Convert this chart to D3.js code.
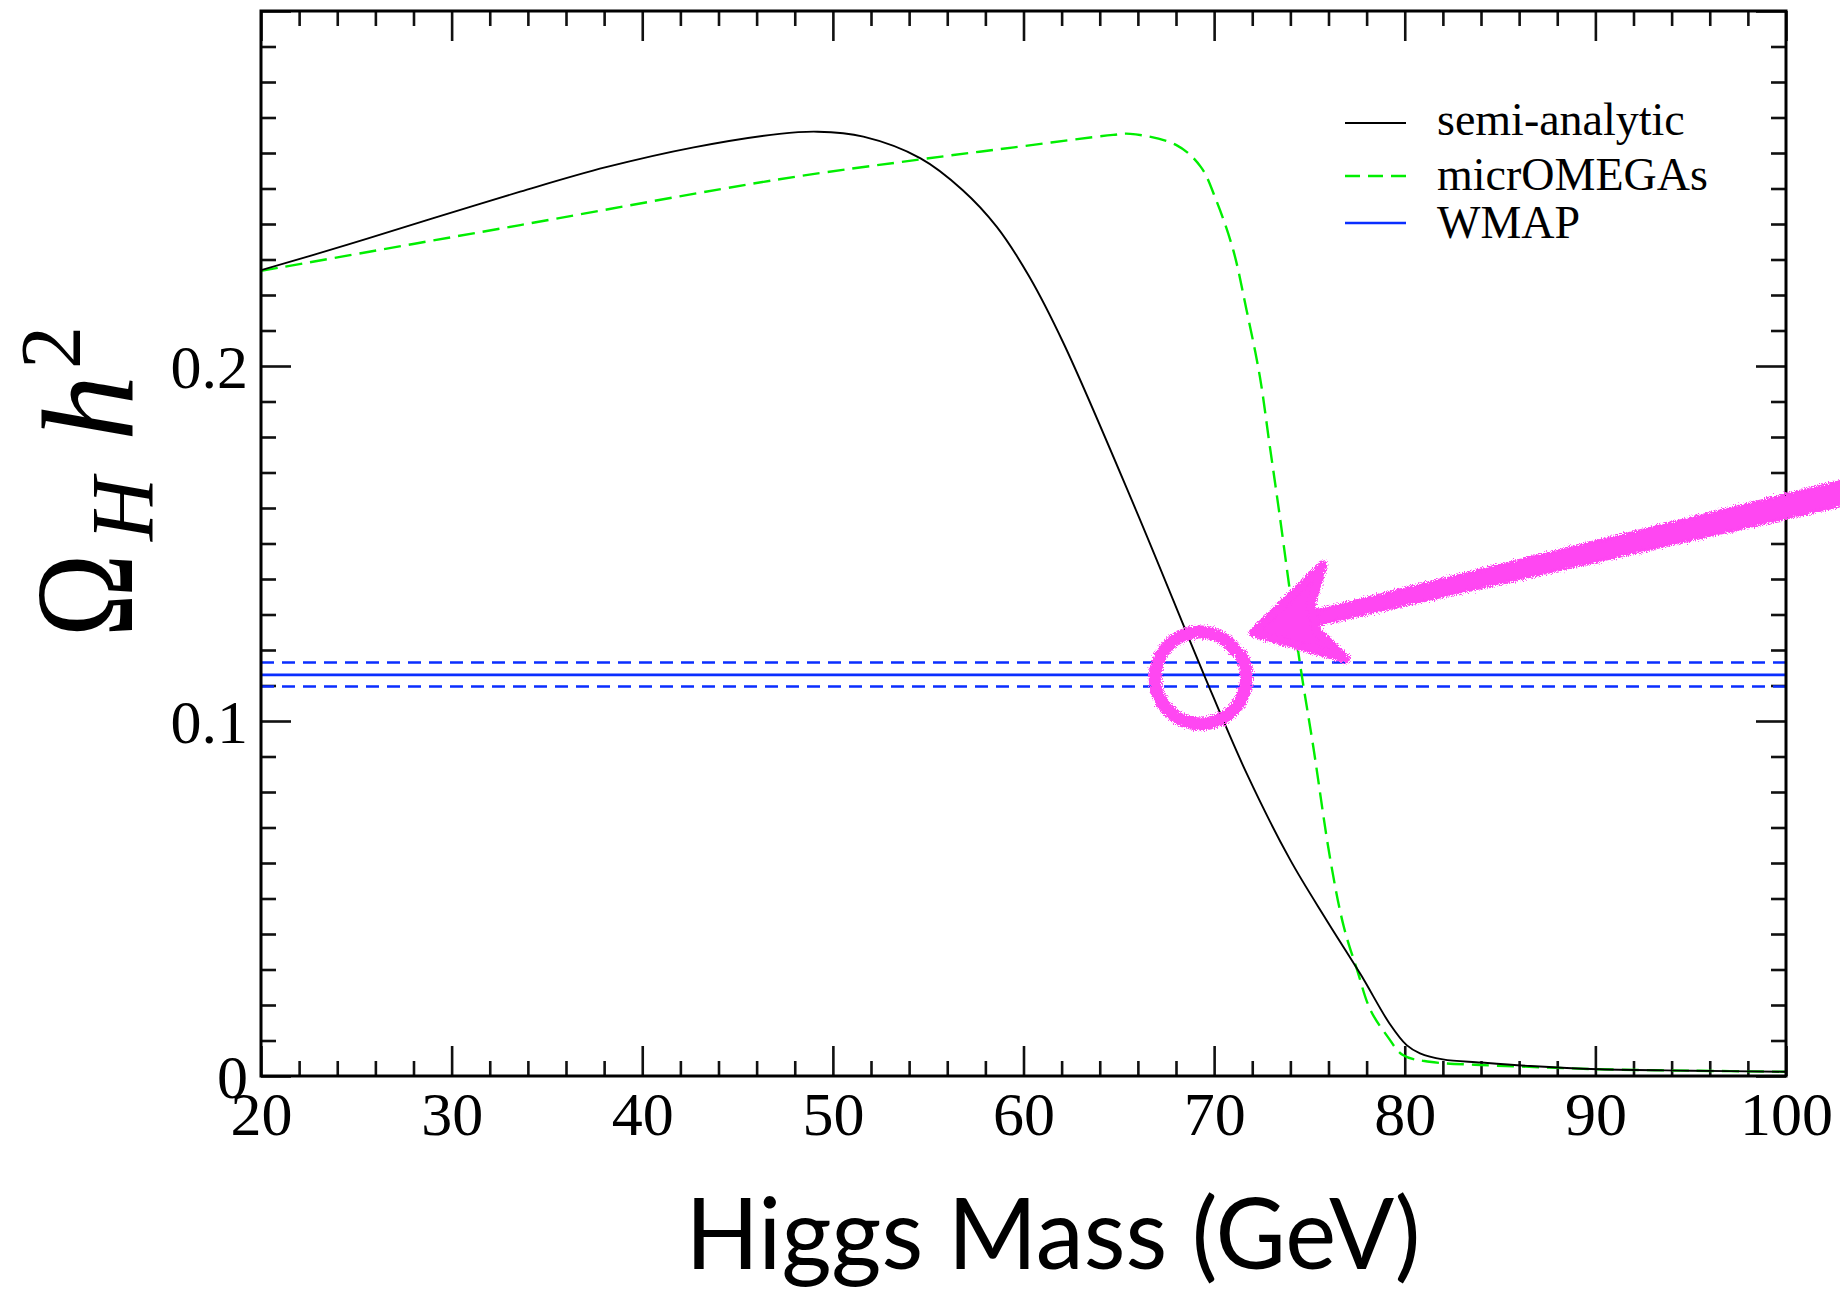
<!DOCTYPE html>
<html><head><meta charset="utf-8">
<script src="https://cdn.jsdelivr.net/npm/d3@7"></script>
<style>html,body{margin:0;padding:0;background:#fff;} svg{display:block}</style>
</head><body>
<svg id="chart" width="1840" height="1293"></svg>
<script>
// ---------- data ----------
const semiMass  = [20, 24.5, 29, 33.6, 38.1, 42.7, 47.2, 49.2, 51.6, 54.6, 56.8, 58.6, 60.3, 62.1, 65.9, 69.47, 71.7, 74.0, 75.9, 77.7, 79.2, 80.1, 80.8, 82.0, 84.0, 86.6, 90.2, 95, 100];
const semiOmega = [0.2270, 0.2341, 0.2416, 0.2491, 0.2560, 0.2616, 0.2654, 0.2660, 0.2646, 0.2585, 0.2496, 0.2392, 0.2252, 0.2064, 0.1594, 0.1130, 0.0853, 0.0608, 0.0439, 0.0285, 0.0148, 0.0087, 0.0064, 0.0047, 0.0038, 0.0028, 0.0019, 0.0015, 0.0012];
const microMass  = [20, 33.6, 47.2, 54.6, 59.5, 64.7, 65.6, 68.0, 69.3, 70.1, 71.0, 71.7, 72.4, 72.9, 73.4, 74.5, 75.2, 76.1, 76.8, 77.5, 78.2, 79.1, 79.9, 81.3, 84.0, 87.5, 90.2, 95, 100];
const microOmega = [0.2268, 0.2397, 0.2526, 0.2582, 0.2616, 0.2651, 0.2654, 0.2623, 0.2561, 0.2468, 0.2327, 0.2158, 0.1970, 0.1782, 0.1594, 0.1163, 0.0928, 0.0608, 0.0421, 0.0299, 0.0186, 0.0111, 0.0059, 0.0040, 0.0031, 0.0024, 0.0019, 0.0015, 0.0012];
const wmapLevels = [0.1165, 0.1130, 0.1097];      // upper, central, lower
const wmapDashed = [true, false, true];
const xMajorTicks = [20, 30, 40, 50, 60, 70, 80, 90, 100];
const xTickLabels = ["20", "30", "40", "50", "60", "70", "80", "90", "100"];
const yMajorTicks = [0, 0.1, 0.2, 0.3];
const yTickLabels = ["0", "0.1", "0.2", ""];
const legendNames = ["semi-analytic", "micrOMEGAs", "WMAP"];
const xTitle = "Higgs Mass (GeV)";
// annotation (hand-drawn circle and arrow), in data units
const circleCenter = [69.27, 0.1123];
const arrowTip = [72.04, 0.1248];
const arrowTail = [103.2, 0.1645];

// ---------- layout ----------
const L = 261, R = 1786, T = 11, B = 1076;
const svg = d3.select("#chart");
const x = d3.scaleLinear().domain([20, 100]).range([L, R]);
const y = d3.scaleLinear().domain([0, 0.3]).range([B, T]);
const serif = "'Liberation Serif','Times New Roman',serif";

const defs = svg.append("defs");
defs.append("clipPath").attr("id", "plotclip").append("rect")
  .attr("x", L).attr("y", T).attr("width", R - L).attr("height", B - T);
const f = defs.append("filter").attr("id", "spray")
  .attr("x", "-20%").attr("y", "-20%").attr("width", "140%").attr("height", "140%");
f.append("feTurbulence").attr("type", "fractalNoise").attr("baseFrequency", 0.9)
  .attr("numOctaves", 2).attr("seed", 4).attr("result", "n");
f.append("feDisplacementMap").attr("in", "SourceGraphic").attr("in2", "n")
  .attr("scale", 8).attr("xChannelSelector", "R").attr("yChannelSelector", "G");

// ---------- ticks ----------
const xMinor = d3.range(20, 100.001, 2).filter(v => v % 10 !== 0);
const yMinor = d3.range(0, 31).map(i => i / 100).filter((v, i) => i % 10 !== 0);
const majorLen = 30, minorLen = 15;

function styleAxis(g) {
  g.select(".domain").remove();
  g.selectAll(".tick line").attr("stroke", "#111").attr("stroke-width", 2.6);
}
// bottom
svg.append("g").attr("transform", `translate(0,${B})`)
  .call(d3.axisBottom(x).tickValues(xMajorTicks).tickSize(-majorLen).tickSizeOuter(0)
    .tickFormat((d, i) => xTickLabels[i]))
  .call(styleAxis)
  .call(g => g.selectAll("text").attr("y", 59).attr("dy", 0)
    .attr("font-family", serif).attr("font-size", 62).attr("fill", "#000"));
svg.append("g").attr("transform", `translate(0,${B})`)
  .call(d3.axisBottom(x).tickValues(xMinor).tickSize(-minorLen).tickSizeOuter(0).tickFormat(""))
  .call(styleAxis);
// top
svg.append("g").attr("transform", `translate(0,${T})`)
  .call(d3.axisTop(x).tickValues(xMajorTicks).tickSize(-majorLen).tickSizeOuter(0).tickFormat(""))
  .call(styleAxis);
svg.append("g").attr("transform", `translate(0,${T})`)
  .call(d3.axisTop(x).tickValues(xMinor).tickSize(-minorLen).tickSizeOuter(0).tickFormat(""))
  .call(styleAxis);
// left
svg.append("g").attr("transform", `translate(${L},0)`)
  .call(d3.axisLeft(y).tickValues(yMajorTicks).tickSize(-majorLen).tickSizeOuter(0)
    .tickFormat((d, i) => yTickLabels[i]))
  .call(styleAxis)
  .call(g => g.selectAll("text").attr("x", -13).attr("y", 21).attr("dy", 0)
    .attr("font-family", serif).attr("font-size", 62).attr("fill", "#000"));
svg.append("g").attr("transform", `translate(${L},0)`)
  .call(d3.axisLeft(y).tickValues(yMinor).tickSize(-minorLen).tickSizeOuter(0).tickFormat(""))
  .call(styleAxis);
// right
svg.append("g").attr("transform", `translate(${R},0)`)
  .call(d3.axisRight(y).tickValues(yMajorTicks).tickSize(-majorLen).tickSizeOuter(0).tickFormat(""))
  .call(styleAxis);
svg.append("g").attr("transform", `translate(${R},0)`)
  .call(d3.axisRight(y).tickValues(yMinor).tickSize(-minorLen).tickSizeOuter(0).tickFormat(""))
  .call(styleAxis);

// ---------- curves ----------
const plot = svg.append("g").attr("clip-path", "url(#plotclip)");
const line = d3.line().x(d => x(d[0])).y(d => y(d[1])).curve(d3.curveCatmullRom.alpha(0.5));
const blue = "#0a2eff";
wmapLevels.forEach((lv, i) => {
  plot.append("line").attr("x1", x(20)).attr("x2", x(100)).attr("y1", y(lv)).attr("y2", y(lv))
    .attr("stroke", blue).attr("stroke-width", 2.6)
    .attr("stroke-dasharray", wmapDashed[i] ? "13,8" : null);
});
plot.append("path").datum(microMass.map((m, i) => [m, microOmega[i]]))
  .attr("d", line).attr("fill", "none").attr("stroke", "#00ee00")
  .attr("stroke-width", 2.4).attr("stroke-dasharray", "17,8");
plot.append("path").datum(semiMass.map((m, i) => [m, semiOmega[i]]))
  .attr("d", line).attr("fill", "none").attr("stroke", "#000").attr("stroke-width", 1.9);

// frame
svg.append("rect").attr("x", L).attr("y", T).attr("width", R - L).attr("height", B - T)
  .attr("fill", "none").attr("stroke", "#000").attr("stroke-width", 3);

// ---------- legend ----------
const legStyles = [
  {stroke: "#000", dash: null, w: 2},
  {stroke: "#00ee00", dash: "15,8", w: 2.4},
  {stroke: blue, dash: null, w: 2.4}
];
const legRowsY = [123, 176, 223];
const legBase = [135, 190, 238];
legendNames.forEach((name, i) => {
  svg.append("line").attr("x1", 1345).attr("x2", 1406).attr("y1", legRowsY[i]).attr("y2", legRowsY[i])
    .attr("stroke", legStyles[i].stroke).attr("stroke-width", legStyles[i].w)
    .attr("stroke-dasharray", legStyles[i].dash);
  svg.append("text").attr("x", 1437).attr("y", legBase[i]).text(name)
    .attr("font-family", serif).attr("font-size", 46).attr("fill", "#000");
});

// ---------- axis titles ----------
svg.append("text").attr("x", 1053).attr("y", 1269).text(xTitle)
  .attr("text-anchor", "middle").attr("font-family", "Lato, 'Open Sans', sans-serif")
  .attr("font-size", 98).attr("textLength", 735).attr("lengthAdjust", "spacingAndGlyphs")
  .attr("fill", "#000");

const yt = svg.append("g").attr("transform", "rotate(-90)").attr("font-family", serif).attr("fill", "#000");
yt.append("text").attr("transform", "translate(-637,132) scale(0.8,1)").attr("font-size", 140).text("Ω");
yt.append("text").attr("x", -541).attr("y", 152).attr("font-size", 88).attr("font-style", "italic").text("H");
yt.append("text").attr("x", -441).attr("y", 133).attr("font-size", 132).attr("font-style", "italic").text("h");
yt.append("text").attr("x", -369).attr("y", 80).attr("font-size", 86).text("2");

// ---------- annotation ----------
const pink = "#ff46f2";
const ann = svg.append("g").attr("filter", "url(#spray)").attr("fill", "none")
  .attr("stroke", pink).attr("stroke-linecap", "round").attr("stroke-linejoin", "round");
const cx = x(circleCenter[0]), cy = y(circleCenter[1]);
const ring = d3.range(0, 351, 5).map(k => {
  const a = (-38 - k) * Math.PI / 180;
  const r = 44 + 2.5 * (k / 350);
  return [cx + r * Math.cos(a), cy + r * Math.sin(a) * 1.02];
});
ann.append("path").attr("d", d3.line().curve(d3.curveCatmullRom)(ring)).attr("stroke-width", 13);
const tx = x(arrowTip[0]), ty = y(arrowTip[1]);
const ex = x(arrowTail[0]), ey = y(arrowTail[1]);
// tapering shaft
const dx = ex - tx, dy = ey - ty, len = Math.hypot(dx, dy);
const nx = -dy / len, ny = dx / len;
const s0 = [tx + 50, ty - 12], w0 = 7, w1 = 12;
ann.append("path")
  .attr("d", d3.line()([[s0[0] + nx * w0, s0[1] + ny * w0], [ex + nx * w1, ey + ny * w1],
                        [ex - nx * w1, ey - ny * w1], [s0[0] - nx * w0, s0[1] - ny * w0]]) + "Z")
  .attr("fill", pink).attr("stroke-width", 3);
ann.append("path")
  .attr("d", d3.line()([[tx, ty], [tx + 70, ty - 68], [tx + 58, ty - 28], [tx + 64, ty - 2], [tx + 93, ty + 26], [tx, ty]]))
  .attr("fill", pink).attr("stroke-width", 9);
</script>
</body></html>
